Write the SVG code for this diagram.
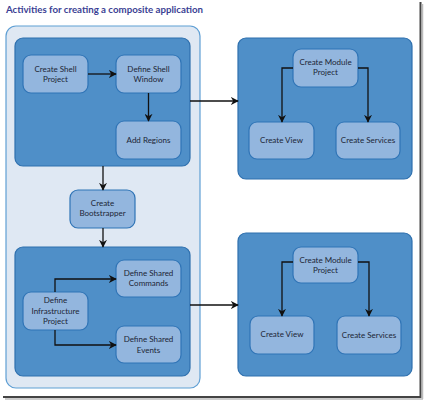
<svg xmlns="http://www.w3.org/2000/svg" width="424" height="400" viewBox="0 0 424 400">
<defs>
<style>
.title{font-family:"Lato","Open Sans",sans-serif;font-size:9.7px;font-weight:bold;fill:#3b3f94}
.panel{fill:#dfe8f3;stroke:#5f9fd4;stroke-width:1.2}
.group{fill:#4f8fc8;stroke:#2f70ae;stroke-width:1.2}
.node rect{fill:#93b6de;stroke:#2f74b6;stroke-width:1.2}
.node text{font-family:"Lato","Open Sans",sans-serif;font-size:8px;fill:#1c2535;text-anchor:middle}
.conn path{fill:none;stroke:#111;stroke-width:1.3}
</style>
<marker id="ah" viewBox="0 0 10 10" refX="9" refY="5" markerWidth="8" markerHeight="8" orient="auto" markerUnits="userSpaceOnUse">
<path d="M0,0 L10,5 L0,10 L3,5 Z" fill="#111"/>
</marker>
</defs>
<rect width="424" height="400" fill="#fff"/>
<line x1="420.5" y1="2" x2="420.5" y2="398" stroke="#444" stroke-width="2"/>
<line x1="422.5" y1="4" x2="422.5" y2="399" stroke="#bbb" stroke-width="1.5"/>
<line x1="3" y1="397" x2="421" y2="397" stroke="#444" stroke-width="2"/>
<line x1="5" y1="399" x2="423" y2="399" stroke="#bbb" stroke-width="1.5"/>
<text class="title" x="6" y="12.5">Activities for creating a composite application</text>

<rect class="panel" x="6" y="26" width="194" height="362" rx="10"/>
<rect id="g1" class="group" x="15" y="38" width="175" height="128" rx="8"/>
<rect id="g2" class="group" x="15" y="247" width="175" height="129" rx="8"/>
<rect id="g3" class="group" x="238" y="38" width="174" height="141" rx="8"/>
<rect id="g4" class="group" x="238" y="233" width="174" height="143" rx="8"/>

<g id="createShell" class="node"><rect x="23" y="55" width="65" height="38" rx="8"/><text x="55.5" y="71.5">Create Shell</text><text x="55.5" y="81.5">Project</text></g>
<g id="defineShell" class="node"><rect x="116" y="55" width="65" height="38" rx="8"/><text x="148.5" y="71.5">Define Shell</text><text x="148.5" y="81.5">Window</text></g>
<g id="addRegions" class="node"><rect x="116" y="121" width="65" height="38" rx="8"/><text x="148.5" y="143">Add Regions</text></g>
<g id="bootstrapper" class="node"><rect x="70" y="190" width="65" height="38" rx="8"/><text x="102.5" y="206">Create</text><text x="102.5" y="216">Bootstrapper</text></g>
<g id="sharedCommands" class="node"><rect x="116" y="260" width="65" height="37" rx="8"/><text x="148.5" y="276">Define Shared</text><text x="148.5" y="286">Commands</text></g>
<g id="infra" class="node"><rect x="23" y="292" width="65" height="38" rx="8"/><text x="55.5" y="303">Define</text><text x="55.5" y="313.5">Infrastructure</text><text x="55.5" y="324">Project</text></g>
<g id="sharedEvents" class="node"><rect x="116" y="326" width="65" height="37" rx="8"/><text x="148.5" y="342">Define Shared</text><text x="148.5" y="352.5">Events</text></g>

<g id="module1" class="node"><rect x="293" y="49" width="65" height="38" rx="8"/><text x="325.5" y="65">Create Module</text><text x="325.5" y="75">Project</text></g>
<g id="view1" class="node"><rect x="249" y="122" width="65" height="37" rx="8"/><text x="281.5" y="143">Create View</text></g>
<g id="services1" class="node"><rect x="336" y="122" width="64" height="37" rx="8"/><text x="368" y="143">Create Services</text></g>

<g id="module2" class="node"><rect x="293" y="247" width="65" height="36" rx="8"/><text x="325.5" y="263">Create Module</text><text x="325.5" y="273">Project</text></g>
<g id="view2" class="node"><rect x="250" y="316" width="64" height="38" rx="8"/><text x="282" y="337">Create View</text></g>
<g id="services2" class="node"><rect x="337" y="316" width="64" height="38" rx="8"/><text x="369" y="338">Create Services</text></g>

<g id="connectors" class="conn">
<path d="M88,74 H116" marker-end="url(#ah)"/>
<path d="M148.5,93 V121" marker-end="url(#ah)"/>
<path d="M103,166 V190" marker-end="url(#ah)"/>
<path d="M103,228 V247" marker-end="url(#ah)"/>
<path d="M55,292 V279 H116" marker-end="url(#ah)"/>
<path d="M55,330 V345 H116" marker-end="url(#ah)"/>
<path d="M190,101 H238" marker-end="url(#ah)"/>
<path d="M190,305 H238" marker-end="url(#ah)"/>
<path d="M293,68 H282 V122" marker-end="url(#ah)"/>
<path d="M358,68 H368 V122" marker-end="url(#ah)"/>
<path d="M293,262 H282 V316" marker-end="url(#ah)"/>
<path d="M358,262 H369 V316" marker-end="url(#ah)"/>
</g>
</svg>
